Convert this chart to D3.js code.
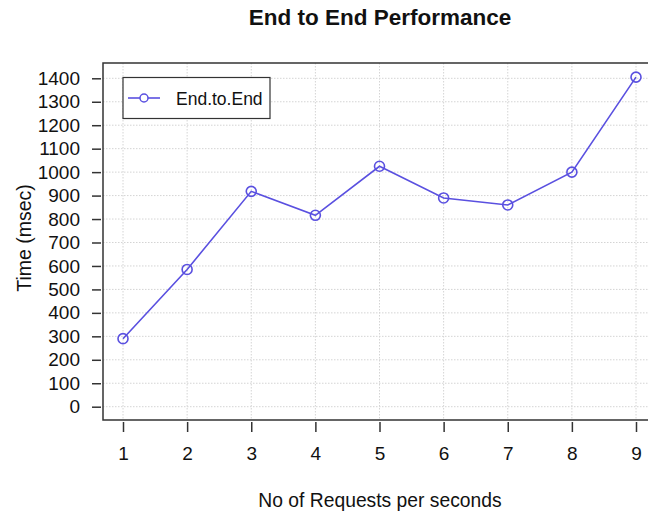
<!DOCTYPE html>
<html>
<head>
<meta charset="utf-8">
<script src="https://cdn.jsdelivr.net/npm/d3@7"></script>
<style>
  body { margin: 0; background: #fff; }
  svg { display: block; font-family: "Liberation Sans", Arial, sans-serif; }
</style>
</head>
<body>
<svg id="chart" width="648" height="515"></svg>
<script>
const categories = [1, 2, 3, 4, 5, 6, 7, 8, 9];
const endToEnd = [290, 585, 918, 816, 1025, 890, 860, 1000, 1405];
const yTicks = [0, 100, 200, 300, 400, 500, 600, 700, 800, 900, 1000, 1100, 1200, 1300, 1400];
const seriesName = "End.to.End";

const svg = d3.select("#chart");
const W = 648, H = 515;
const box = { left: 103, top: 63, bottom: 420 };
const FONT = "Liberation Sans, Arial, sans-serif";

const x = d3.scaleLinear().domain([1, 9]).range([123, 636]);
const y = d3.scaleLinear().domain([0, 1400]).range([406.7, 78.3]);
const lineColor = "#5a50e0";

// grid
const grid = svg.append("g").attr("stroke", "#d4d4d4").attr("stroke-width", 1).attr("stroke-dasharray", "1.5,1.5");
grid.selectAll("line.h").data(yTicks).join("line")
  .attr("x1", box.left).attr("x2", W).attr("y1", d => y(d)).attr("y2", d => y(d));
grid.selectAll("line.v").data(categories).join("line")
  .attr("y1", box.top).attr("y2", box.bottom).attr("x1", d => x(d)).attr("x2", d => x(d));

// plot box (top, left, bottom)
svg.append("path")
  .attr("d", `M${W},${box.top}H${box.left}V${box.bottom}H${W}`)
  .attr("fill", "none").attr("stroke", "#333").attr("stroke-width", 1.5);

// y axis
const yAxis = d3.axisLeft(y).tickValues(yTicks).tickSize(9).tickPadding(12).tickFormat(d3.format("d"));
const gy = svg.append("g").attr("transform", "translate(101,0)").call(yAxis);
gy.select(".domain").remove();
gy.selectAll(".tick line").attr("stroke", "#333").attr("stroke-width", 1.5);
gy.selectAll(".tick text").attr("font-size", 19).attr("fill", "#111").attr("font-family", FONT);

// x axis
const xAxis = d3.axisBottom(x).tickValues(categories).tickSize(10).tickPadding(15).tickFormat(d3.format("d"));
const gx = svg.append("g").attr("transform", "translate(0,422)").call(xAxis);
gx.select(".domain").remove();
gx.selectAll(".tick line").attr("stroke", "#333").attr("stroke-width", 1.5);
gx.selectAll(".tick text").attr("font-size", 19).attr("fill", "#111").attr("font-family", FONT);

// line
const data = categories.map((c, i) => ({ c, v: endToEnd[i] }));
svg.append("path").datum(data)
  .attr("d", d3.line().x(d => x(d.c)).y(d => y(d.v)))
  .attr("fill", "none").attr("stroke", lineColor).attr("stroke-width", 1.6);
svg.selectAll("circle.pt").data(data).join("circle")
  .attr("cx", d => x(d.c)).attr("cy", d => y(d.v)).attr("r", 5)
  .attr("fill", "none").attr("stroke", lineColor).attr("stroke-width", 1.6);

// legend
svg.append("rect").attr("x", 123).attr("y", 77.5).attr("width", 147).attr("height", 41)
  .attr("fill", "#fff").attr("stroke", "#333").attr("stroke-width", 1.2);
svg.append("line").attr("x1", 128).attr("x2", 160).attr("y1", 98).attr("y2", 98)
  .attr("stroke", lineColor).attr("stroke-width", 1.6);
svg.append("circle").attr("cx", 144).attr("cy", 98).attr("r", 4)
  .attr("fill", "#fff").attr("stroke", lineColor).attr("stroke-width", 1.5);
svg.append("text").attr("x", 176).attr("y", 105).attr("font-size", 17.5).attr("fill", "#111").text(seriesName);

// title
svg.append("text").attr("x", 380).attr("y", 25).attr("text-anchor", "middle")
  .attr("font-size", 22.5).attr("font-weight", "bold").attr("fill", "#111").text("End to End Performance");

// axis titles
svg.append("text").attr("x", 380).attr("y", 507).attr("text-anchor", "middle")
  .attr("font-size", 19.3).attr("fill", "#111").text("No of Requests per seconds");
svg.append("text").attr("transform", "translate(31,238) rotate(-90)").attr("text-anchor", "middle")
  .attr("font-size", 19.5).attr("fill", "#111").text("Time (msec)");
</script>
</body>
</html>
